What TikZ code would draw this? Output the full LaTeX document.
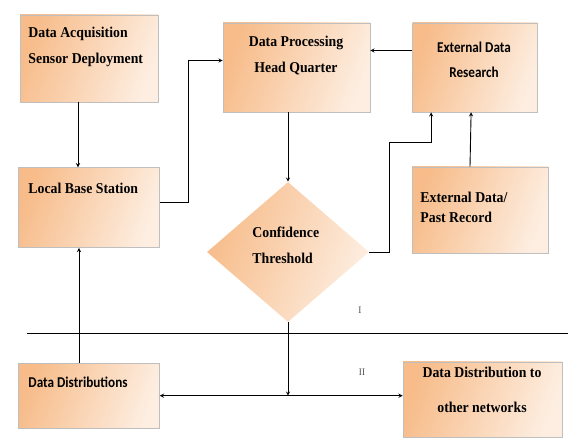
\documentclass[tikz,border=0pt]{standalone}
\usepackage{fontspec}
\setmainfont[FakeStretch=0.92,BoldFont={Liberation Serif Bold}]{Liberation Serif}
\newfontfamily\cfont[FakeStretch=0.88]{Carlito}
\usetikzlibrary{shapes.geometric,positioning}
\definecolor{peachD}{RGB}{247,188,138}
\definecolor{peachL}{RGB}{253,238,225}

\begin{document}
\begin{tikzpicture}[x=1pt,y=-1pt,>=stealth,line width=0.9pt,
    blk/.style={draw=black!25,line width=0.6pt,left color=peachD,right color=peachL,
      shading angle=70,inner sep=0pt},
    txt/.style={font=\rmfamily\bfseries\fontsize{15}{26}\selectfont,inner sep=0pt},
    sans/.style={font=\cfont\bfseries\fontsize{15}{25}\selectfont,inner sep=0pt},
    tag/.style={font=\rmfamily\fontsize{10}{12}\selectfont,text=black!70,inner sep=0pt}]
 \useasboundingbox (0,0) rectangle (568,438);
 % boxes
 \node[blk,minimum width=138,minimum height=87] (acq) at (89,58.5) {};
 \node[blk,minimum width=141,minimum height=80,below=65pt of acq] (lbs) {};
 \node[blk,minimum width=141,minimum height=65,below=115pt of lbs] (dist) {};
 \node[blk,minimum width=147,minimum height=89] (hq) at (296.5,67.5) {};
 \node[blk,minimum width=125,minimum height=89,right=42pt of hq] (ext) {};
 \node[blk,minimum width=136,minimum height=86] (past) at (480,210) {};
 \node[blk,diamond,draw=none,minimum width=162,minimum height=140] (conf) at (288,252) {};
 \node[blk,minimum width=159,minimum height=75] (net) at (482.5,399.5) {};
 % texts
 \node[txt,anchor=west,align=left] (acq-t) at (28,47) {Data Acquisition\\Sensor Deployment};
 \node[txt,anchor=west] (lbs-t) at (28,188) {Local Base Station};
 \node[txt,align=center] (hq-t) at (296,56) {Data Processing\\Head Quarter};
 \node[sans,align=center] (ext-t) at (474,60) {External Data\\Research};
 \node[txt,anchor=west,align=left] (past-t) at (420,207) {External Data/\\[-6pt]Past Record};
 \node[txt,anchor=west,align=left] (conf-t) at (252,245) {Confidence\\Threshold};
 \node[sans,anchor=west] (dist-t) at (28,382) {Data Distributions};
 \node[txt,align=center] (net-t) at (482,390) {Data Distribution to\\[9pt]other networks};
 \node[tag] (one) at (360,310) {I};
 \node[tag] (two) at (362,372) {II};
 % separator
 \draw (27,333) -- (568,333);
 % connectors
 \draw[->] ([xshift=-11pt]acq.south) -- ([xshift=-11pt]lbs.north);
 \draw[->] ([yshift=5pt]lbs.east) -- ++(29,0) |- ([yshift=7pt]hq.west);
 \draw[->] ([yshift=17pt]ext.west) -- ([yshift=17pt]hq.east);
 \draw[->] (hq.south -| conf.north) -- (conf.north);
 \draw[->] (conf.east) -- ++(20,0) -- ++(0,-110) -| ([xshift=-44pt]ext.south);
 \draw[->] ([xshift=-10pt]past.north) -- ([xshift=-4pt]ext.south);
 \draw[->] (conf.south) -- (conf.south |- dist.east);
 \draw[<->] (dist.east) -- (dist.east -| net.west);
 \draw[->] ([xshift=-10pt]dist.north) -- ([xshift=-10pt]lbs.south);
\end{tikzpicture}
\end{document}
